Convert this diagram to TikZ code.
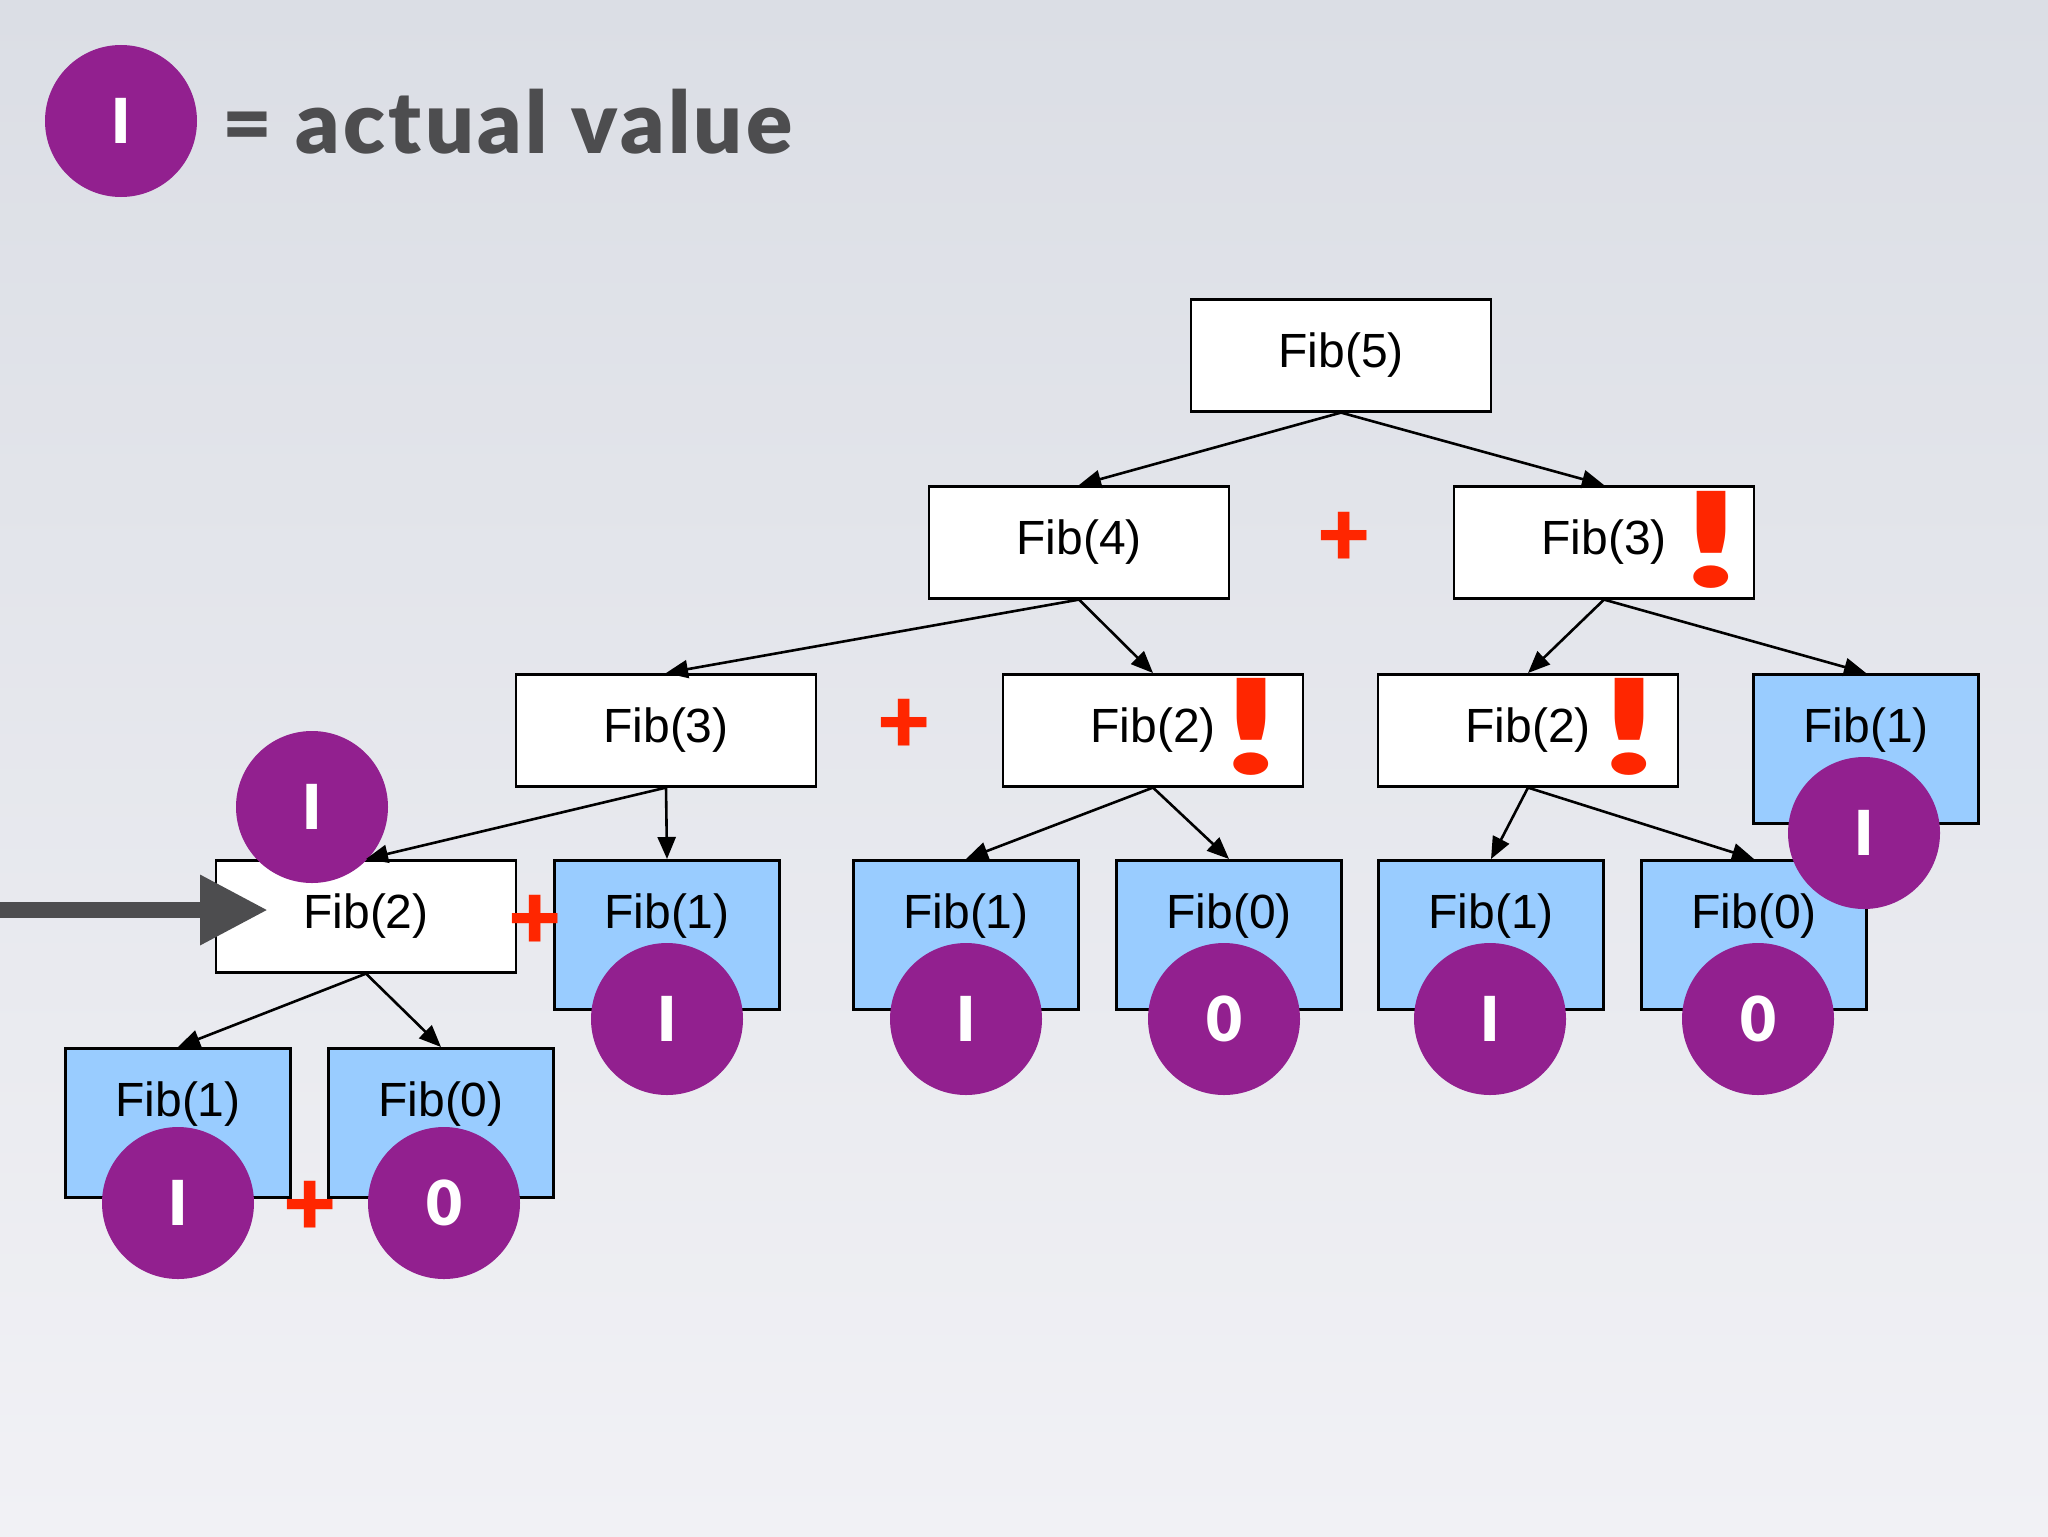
\documentclass[tikz,border=0pt]{standalone}
\usepackage{fontspec}
\usepackage{graphicx}
\setmainfont{Liberation Sans}
\newfontfamily\slidefont{Lato Black}
\usetikzlibrary{arrows.meta}

\definecolor{fibpurple}{RGB}{146,32,143}
\definecolor{leafblue}{RGB}{153,204,255}
\definecolor{plusred}{RGB}{255,38,0}
\definecolor{slidegray}{RGB}{77,77,79}
\definecolor{bgtop}{RGB}{219,222,229}
\definecolor{bgbottom}{RGB}{241,241,245}

\tikzset{
  call/.style={draw=black, line width=1.3pt, fill=white, minimum width=150pt, minimum height=56pt,
    text height=17pt, text depth=5pt, inner sep=0pt, anchor=north, font=\fontsize{24}{24}\selectfont},
  leaf/.style={call, fill=leafblue, minimum width=112.5pt, minimum height=74.5pt, text depth=23.5pt},
  result/.style={circle, fill=fibpurple, minimum size=76pt, inner sep=0pt, text=white,
    font=\slidefont\fontsize{31}{31}\selectfont},
  plussign/.style={text=plusred, inner sep=0pt, font=\slidefont\fontsize{46}{46}\selectfont},
  bang/.style={text=plusred, inner sep=0pt, font=\slidefont\fontsize{66}{66}\selectfont},
  link/.style={-{Triangle[length=11pt,width=9pt]}, line width=1.3pt},
}

\begin{document}
\begin{tikzpicture}[x=0.5pt, y=-0.5pt]
  % Background
  \shade[top color=bgtop, bottom color=bgbottom] (0,0) rectangle (2048,1536);
  \useasboundingbox (0,0) rectangle (2048,1536);

  % Legend
  \node[result] (key) at (121,121) {I};
  \node[anchor=base west, text=slidegray, inner sep=0pt,
    font=\slidefont\fontsize{43}{43}\selectfont\addfontfeature{LetterSpace=4.0}] (keytext) at (222,153) {= actual value};

  % Call tree
  \node[call] (f5) at (1341,298) {Fib(5)};
  \node[call] (f4) at (1079,485) {Fib(4)};
  \node[call] (f3r) at (1604,485) {Fib(3)};
  \node[call] (f3) at (666,673) {Fib(3)};
  \node[call] (f2a) at (1153,673) {Fib(2)};
  \node[call] (f2b) at (1528,673) {Fib(2)};
  \node[leaf] (f1r) at (1866,673) {Fib(1)};
  \node[call] (f2) at (366,859) {Fib(2)};
  \node[leaf] (f1) at (667,859) {Fib(1)};
  \node[leaf] (f1a) at (966,859) {Fib(1)};
  \node[leaf] (f0a) at (1229,859) {Fib(0)};
  \node[leaf] (f1b) at (1491,859) {Fib(1)};
  \node[leaf] (f0b) at (1754,859) {Fib(0)};
  \node[leaf] (f1c) at (178,1047) {Fib(1)};
  \node[leaf] (f0c) at (441,1047) {Fib(0)};

  % Values
  \node[result] (v2) at (312,807) {I};
  \node[result] (v1) at (667,1019) {I};
  \node[result] (v1a) at (966,1019) {I};
  \node[result] (v0a) at (1224,1019) {0};
  \node[result] (v1b) at (1490,1019) {I};
  \node[result] (v0b) at (1758,1019) {0};
  \node[result] (v1r) at (1864,833) {I};
  \node[result] (v1c) at (178,1203) {I};
  \node[result] (v0c) at (444,1203) {0};

  % Recursive calls
  \draw[link] (f5.south) -- (f4.north);
  \draw[link] (f5.south) -- (f3r.north);
  \draw[link] (f4.south) -- (f3.north);
  \draw[link] (f4.south) -- (f2a.north);
  \draw[link] (f3r.south) -- (f2b.north);
  \draw[link] (f3r.south) -- (f1r.north);
  \draw[link] (f3.south) -- (f2.north);
  \draw[link] (f3.south) -- (f1.north);
  \draw[link] (f2a.south) -- (f1a.north);
  \draw[link] (f2a.south) -- (f0a.north);
  \draw[link] (f2b.south) -- (f1b.north);
  \draw[link] (f2b.south) -- (f0b.north);
  \draw[link] (f2.south) -- (f1c.north);
  \draw[link] (f2.south) -- (f0c.north);

  % Pointer
  \coordinate (ptail) at (0,910);
  \coordinate (ptip) at (268,910);
  \draw[slidegray, line width=8pt, -{Triangle[length=34pt,width=33pt]}] (ptail) -- (ptip);

  % Repeated work
  \node[bang] (bang3) at (1711,540) {\scalebox{1.5}[1]{!}};
  \node[bang] (bang2a) at (1251,727) {\scalebox{1.5}[1]{!}};
  \node[bang] (bang2b) at (1629,727) {\scalebox{1.5}[1]{!}};

  % Sums
  \node[plussign] (plus4) at (1344,539) {+};
  \node[plussign] (plus3) at (904,726) {+};
  \node[plussign] (plus2) at (535,922) {+};
  \node[plussign] (plus1) at (310,1208) {+};
\end{tikzpicture}
\end{document}
